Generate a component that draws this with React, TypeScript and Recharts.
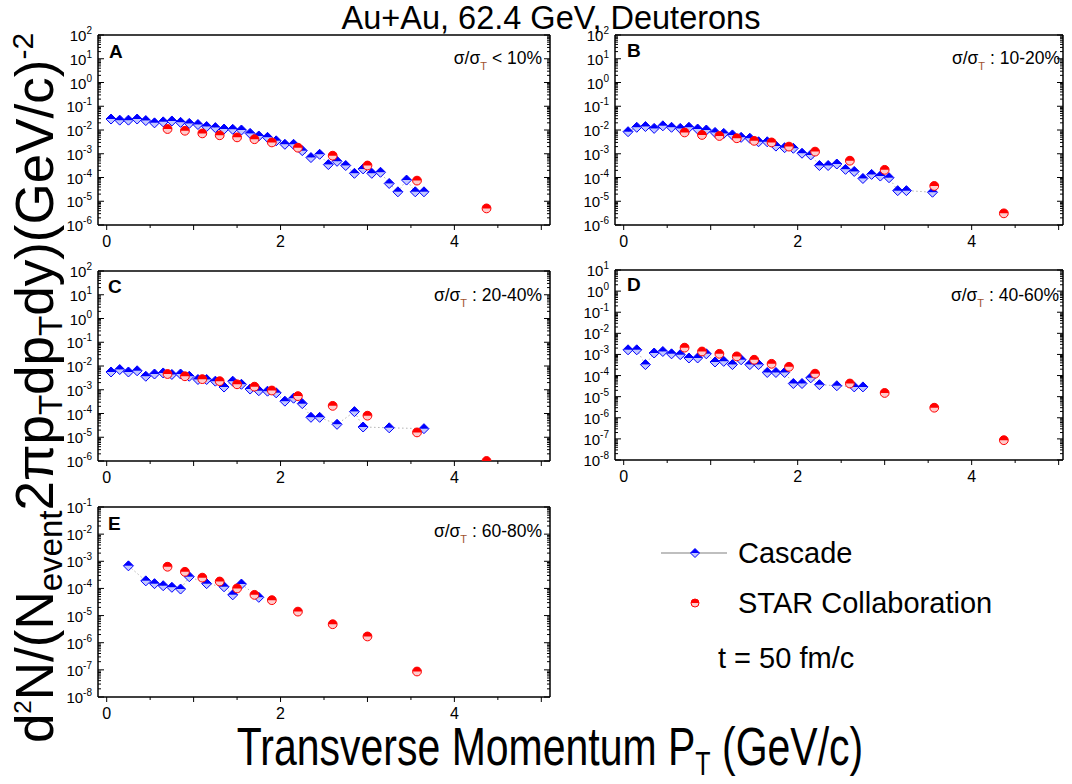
import React from 'react';
import { ScatterChart, Scatter, XAxis, YAxis, ReferenceLine } from 'recharts';

const FONT = '"Liberation Sans", Arial, Helvetica, sans-serif';

// ---------- data ----------
const starPt = [0.7, 0.9, 1.1, 1.3, 1.5, 1.7, 1.9, 2.2, 2.6, 3.0, 3.57, 4.37];

const ptCascadeA = [0.05, 0.15, 0.25, 0.35, 0.45, 0.55, 0.65, 0.75, 0.85, 0.95, 1.05, 1.15, 1.25, 1.35, 1.45, 1.55, 1.65, 1.75, 1.85, 1.95, 2.05, 2.15, 2.25, 2.35, 2.45, 2.55, 2.65, 2.75, 2.85, 2.95, 3.05, 3.15, 3.25, 3.35, 3.45, 3.55, 3.65];
const yCascadeA = [2.9e-2, 2.6e-2, 2.6e-2, 2.9e-2, 2.5e-2, 2.0e-2, 2.2e-2, 2.4e-2, 2.1e-2, 1.9e-2, 1.7e-2, 1.4e-2, 1.26e-2, 1.1e-2, 1.07e-2, 1.0e-2, 7.2e-3, 5.6e-3, 4.9e-3, 3.5e-3, 2.5e-3, 2.5e-3, 1.35e-3, 6.9e-4, 9.5e-4, 3.5e-4, 4.8e-4, 3.2e-4, 1.5e-4, 2.3e-4, 1.5e-4, 1.66e-4, 5.6e-5, 2.5e-5, 7.8e-5, 2.5e-5, 2.5e-5];
const yStarA = [1.1e-2, 9.3e-3, 7.2e-3, 6.0e-3, 4.9e-3, 4.1e-3, 3.0e-3, 1.8e-3, 8.3e-4, 3.2e-4, 7.4e-5, 5.0e-6];

const ptCascadeB = [0.05, 0.15, 0.25, 0.35, 0.45, 0.55, 0.65, 0.75, 0.85, 0.95, 1.05, 1.15, 1.25, 1.35, 1.45, 1.55, 1.65, 1.75, 1.85, 1.95, 2.05, 2.15, 2.25, 2.35, 2.45, 2.55, 2.65, 2.75, 2.85, 2.95, 3.05, 3.15, 3.25, 3.55];
const yCascadeB = [8.5e-3, 1.3e-2, 1.4e-2, 1.17e-2, 1.5e-2, 1.3e-2, 1.17e-2, 1.3e-2, 1.1e-2, 1.0e-2, 7.9e-3, 7.2e-3, 6.2e-3, 4.9e-3, 4.5e-3, 3.2e-3, 3.2e-3, 2.1e-3, 1.8e-3, 1.7e-3, 1.05e-3, 8.9e-4, 3.2e-4, 3.2e-4, 3.7e-4, 2.2e-4, 1.8e-4, 9.1e-5, 1.35e-4, 1.15e-4, 9.8e-5, 2.8e-5, 2.8e-5, 2.4e-5];
const yStarB = [7.9e-3, 6.2e-3, 5.6e-3, 4.5e-3, 3.5e-3, 3.0e-3, 2.0e-3, 1.23e-3, 5.1e-4, 2.1e-4, 4.4e-5, 3.1e-6];

const ptCascadeC = [0.05, 0.15, 0.25, 0.35, 0.45, 0.55, 0.65, 0.75, 0.85, 0.95, 1.05, 1.15, 1.25, 1.35, 1.45, 1.55, 1.65, 1.75, 1.85, 1.95, 2.05, 2.15, 2.25, 2.35, 2.45, 2.65, 2.85, 2.95, 3.25, 3.65];
const yCascadeC = [5.6e-3, 7.1e-3, 5.6e-3, 6.3e-3, 3.7e-3, 4.6e-3, 5.1e-3, 4.4e-3, 4.6e-3, 3.7e-3, 2.7e-3, 2.7e-3, 2.3e-3, 1.3e-3, 2.3e-3, 1.7e-3, 1.07e-3, 9.1e-4, 8.7e-4, 7.4e-4, 3.3e-4, 4.4e-4, 2.6e-4, 6.9e-5, 6.9e-5, 3.5e-5, 1.2e-4, 2.7e-5, 2.5e-5, 2.3e-5];
const yStarC = [4.6e-3, 3.7e-3, 2.8e-3, 2.3e-3, 1.7e-3, 1.35e-3, 9.3e-4, 5.4e-4, 2.1e-4, 8.1e-5, 1.6e-5, 1.0e-6];

const ptCascadeD = [0.05, 0.15, 0.25, 0.35, 0.45, 0.55, 0.65, 0.75, 0.85, 0.95, 1.05, 1.15, 1.25, 1.35, 1.45, 1.55, 1.65, 1.75, 1.85, 1.95, 2.05, 2.15, 2.25, 2.45, 2.65, 2.75];
const yCascadeD = [1.66e-3, 1.66e-3, 3.3e-4, 1.17e-3, 1.38e-3, 1.07e-3, 9.8e-4, 6.8e-4, 6.8e-4, 1.07e-3, 4.4e-4, 4.7e-4, 3.3e-4, 5.6e-4, 3.3e-4, 3.3e-4, 1.4e-4, 1.4e-4, 1.4e-4, 4.2e-5, 4.2e-5, 7.8e-5, 3.7e-5, 3.3e-5, 2.9e-5, 2.9e-5];
const yStarD = [2.1e-3, 1.38e-3, 1.07e-3, 8.1e-4, 5.6e-4, 3.6e-4, 2.6e-4, 1.23e-4, 4.2e-5, 1.5e-5, 3.0e-6, 8.7e-8];

const ptCascadeE = [0.25, 0.45, 0.55, 0.65, 0.75, 0.85, 0.95, 1.15, 1.35, 1.45, 1.55, 1.75];
const yCascadeE = [6.8e-4, 1.9e-4, 1.5e-4, 1.26e-4, 1.1e-4, 9.5e-5, 2.7e-4, 1.5e-4, 1.15e-4, 5.8e-5, 1.45e-4, 4.7e-5];
const yStarE = [6.3e-4, 4.1e-4, 2.5e-4, 1.8e-4, 1.0e-4, 5.8e-5, 3.7e-5, 1.4e-5, 4.8e-6, 1.7e-6, 8.7e-8];

const xTickValues = [0, 0.5, 1, 1.5, 2, 2.5, 3, 3.5, 4, 4.5, 5];
const panelLetters = ['A', 'B', 'C', 'D', 'E'];
const centralityOps = ['<', ':', ':', ':', ':'];
const centralityRanges = ['10%', '10-20%', '20-40%', '40-60%', '60-80%'];
const legendLabels = ['Cascade', 'STAR Collaboration'];
const titleText = 'Au+Au, 62.4 GeV, Deuterons';
const timeText = 't = 50 fm/c';

// ---------- helpers ----------
const toPts = (xs: number[], ys: number[]) => xs.map((x, i) => ({ x, y: ys[i] }));

const BLUE = '#0000ff';
const RED = '#ff0000';

const Diamond = ({ cx, cy, s = 5 }: { cx: number; cy: number; s?: number }) => (
  <g>
    <polygon points={`${cx - s},${cy} ${cx + s},${cy} ${cx},${cy + s}`} fill="#c2c8ff" />
    <polygon points={`${cx},${cy - s} ${cx + s},${cy} ${cx - s},${cy}`} fill={BLUE} />
    <polygon points={`${cx},${cy - s} ${cx + s},${cy} ${cx},${cy + s} ${cx - s},${cy}`} fill="none" stroke={BLUE} strokeWidth={1} />
  </g>
);

const HalfCircle = ({ cx, cy, r = 4.4 }: { cx: number; cy: number; r?: number }) => (
  <g>
    <circle cx={cx} cy={cy} r={r} fill="#ffcccc" stroke={RED} strokeWidth={1} />
    <path d={`M ${cx - r} ${cy} A ${r} ${r} 0 0 1 ${cx + r} ${cy} Z`} fill={RED} />
  </g>
);

const YTick = (props: any) => {
  const { x, y, payload, pw } = props;
  const v = payload.value;
  const e = Math.log10(v);
  const major = Math.abs(e - Math.round(e)) < 1e-6;
  const len = major ? 6 : 3;
  return (
    <g>
      <line x1={x} x2={x + len} y1={y} y2={y} stroke="#000" strokeWidth={1} />
      <line x1={x + pw} x2={x + pw - len} y1={y} y2={y} stroke="#000" strokeWidth={1} />
      {major && (
        <text x={x - 6} y={y + 6} textAnchor="end" fontSize={15} fontFamily={FONT} fill="#000">
          10<tspan dy={-7} fontSize={10}>{Math.round(e)}</tspan>
        </text>
      )}
    </g>
  );
};

const XTick = (props: any) => {
  const { x, y, payload } = props;
  const v = payload.value;
  const isInt = Math.abs(v - Math.round(v)) < 1e-6;
  const lab = isInt && Math.round(v) % 2 === 0;
  return (
    <g>
      <line x1={x} x2={x} y1={y} y2={y + (isInt ? 5 : 3)} stroke="#000" strokeWidth={1} />
      {lab && (
        <text x={x} y={y + 22} textAnchor="middle" fontSize={16} fontFamily={FONT} fill="#000">
          {Math.round(v)}
        </text>
      )}
    </g>
  );
};

type PanelCfg = {
  px: number; py: number; pw: number; ph: number; xMax: number; lo: number; hi: number;
  cascade: { x: number; y: number }[]; star: { x: number; y: number }[];
};

const Panel = ({ cfg }: { cfg: PanelCfg }) => {
  const ML = 70, MT = 16, MR = 6, MB = 30;
  const w = cfg.pw + ML + MR;
  const h = cfg.ph + MT + MB;
  const yTicks: number[] = [];
  for (let k = cfg.lo; k < cfg.hi; k++) {
    for (let m = 1; m < 10; m++) yTicks.push(m * Math.pow(10, k));
  }
  yTicks.push(Math.pow(10, cfg.hi));
  const yMin = Math.pow(10, cfg.lo);
  const yMax = Math.pow(10, cfg.hi);
  const axisLine = { stroke: '#000', strokeWidth: 1.5 };
  return (
    <div style={{ position: 'absolute', left: cfg.px - ML, top: cfg.py - MT, width: w, height: h }}>
      <ScatterChart width={w} height={h} margin={{ top: MT, right: MR, bottom: 0, left: 0 }}>
        <XAxis
          type="number" dataKey="x" domain={[-0.1, cfg.xMax]} ticks={xTickValues} interval={0}
          allowDataOverflow height={MB} tickSize={0} tickMargin={0} tickLine={false}
          axisLine={axisLine} tick={<XTick />}
        />
        <YAxis
          type="number" dataKey="y" scale="log" domain={[yMin, yMax]} ticks={yTicks} interval={0}
          allowDataOverflow width={ML} tickSize={0} tickMargin={0} tickLine={false}
          axisLine={axisLine} tick={(p: any) => <YTick {...p} pw={cfg.pw} />}
        />
        <ReferenceLine y={yMax} stroke="#000" strokeWidth={1.5} />
        <ReferenceLine x={cfg.xMax} stroke="#000" strokeWidth={1.5} />
        <Scatter
          data={cfg.cascade} isAnimationActive={false}
          line={{ stroke: '#b4b4b4', strokeWidth: 1, strokeDasharray: '1.5 2.5' }}
          shape={(p: any) => <Diamond cx={p.cx} cy={p.cy} />}
        />
        <Scatter
          data={cfg.star} isAnimationActive={false}
          shape={(p: any) => <HalfCircle cx={p.cx} cy={p.cy} />}
        />
      </ScatterChart>
    </div>
  );
};

const panels: PanelCfg[] = [
  { px: 98, py: 35, pw: 452, ph: 190, xMax: 5.1, lo: -6, hi: 2, cascade: toPts(ptCascadeA, yCascadeA), star: toPts(starPt, yStarA) },
  { px: 615, py: 35, pw: 448, ph: 190, xMax: 5.05, lo: -6, hi: 2, cascade: toPts(ptCascadeB, yCascadeB), star: toPts(starPt, yStarB) },
  { px: 98, py: 271, pw: 452, ph: 190, xMax: 5.1, lo: -6, hi: 2, cascade: toPts(ptCascadeC, yCascadeC), star: toPts(starPt, yStarC) },
  { px: 615, py: 270, pw: 448, ph: 190, xMax: 5.05, lo: -8, hi: 1, cascade: toPts(ptCascadeD, yCascadeD), star: toPts(starPt, yStarD) },
  { px: 98, py: 507, pw: 452, ph: 190, xMax: 5.1, lo: -8, hi: -1, cascade: toPts(ptCascadeE, yCascadeE), star: toPts(starPt.slice(0, 11), yStarE) },
];

const letterPos = [[109, 57.7], [627, 56.7], [108, 292.7], [627, 291], [108, 530]];
const centPos = [[542, 63.5], [1060, 63.5], [542, 300.5], [1059, 300.5], [542, 536.5]];

export default function App() {
  return (
    <div style={{ position: 'absolute', left: 0, top: 0, width: 1072, height: 784, background: '#fff', overflow: 'hidden' }}>
      {panels.map((p, i) => <Panel key={i} cfg={p} />)}
      <svg width={1072} height={784} style={{ position: 'absolute', left: 0, top: 0, pointerEvents: 'none' }} fontFamily={FONT}>
        <text x={551} y={28.5} textAnchor="middle" fontSize={32.5} fill="#000">{titleText}</text>

        {panelLetters.map((l, i) => (
          <text key={l} x={letterPos[i][0]} y={letterPos[i][1]} fontSize={19} fontWeight="bold" fill="#000">{l}</text>
        ))}
        {centralityRanges.map((r, i) => (
          <text key={r} x={centPos[i][0]} y={centPos[i][1]} textAnchor="end" fontSize={17.5} fill="#000">
            σ/σ<tspan fontSize={11} dy={6} fill="#a0522d">T</tspan><tspan dy={-6}>{` ${centralityOps[i]} ${r}`}</tspan>
          </text>
        ))}

        {/* Y label */}
        <text transform="translate(53,388) rotate(-90)" textAnchor="middle" fontSize={53} fill="#000">
          d<tspan fontSize={24} dy={-22}>2</tspan><tspan dy={22}>N/(N</tspan><tspan fontSize={33} dy={9}>event</tspan><tspan dy={-9}>2πp</tspan><tspan fontSize={33} dy={9}>T</tspan><tspan dy={-9}>dp</tspan><tspan fontSize={33} dy={9}>T</tspan><tspan dy={-9}>dy)(GeV/c)</tspan><tspan fontSize={30} dy={-20}>-2</tspan>
        </text>

        {/* X label */}
        <g transform="translate(550,765) scale(1,1.3)">
          <text x={0} y={0} textAnchor="middle" fontSize={41} fill="#000">
            Transverse Momentum P<tspan fontSize={25} dy={8}>T</tspan><tspan dy={-8}> (GeV/c)</tspan>
          </text>
        </g>

        {/* Legend */}
        <line x1={661} x2={727} y1={553} y2={553} stroke="#aaaaaa" strokeWidth={1.5} />
        <Diamond cx={695} cy={553} s={4.5} />
        <text x={738} y={563} fontSize={29} fill="#000">{legendLabels[0]}</text>
        <HalfCircle cx={695} cy={603} r={4} />
        <text x={738} y={613} fontSize={29} fill="#000">{legendLabels[1]}</text>
        <text x={718} y={668} fontSize={29} fill="#000">{timeText}</text>
      </svg>
    </div>
  );
}
